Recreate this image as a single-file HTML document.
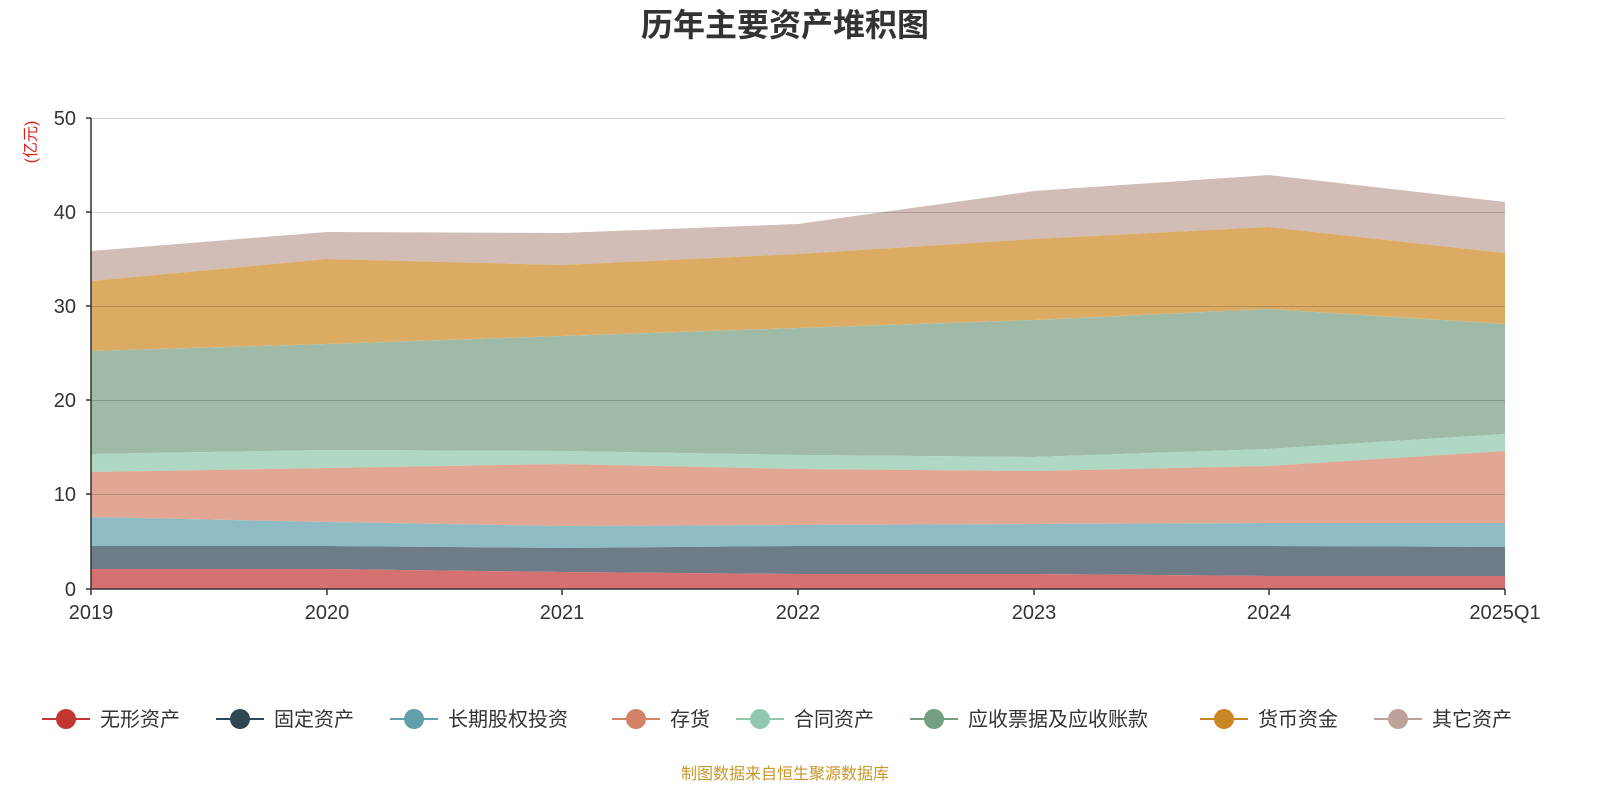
<!DOCTYPE html>
<html><head><meta charset="utf-8"><style>
html,body{margin:0;padding:0;background:#fff;overflow:hidden;width:1600px;height:800px;}
svg{display:block;}
svg text{font-family:"Liberation Sans","Noto Sans CJK SC",sans-serif;}
</style></head><body>
<svg width="1600" height="800" xmlns="http://www.w3.org/2000/svg">
<rect width="1600" height="800" fill="#fff"/>
<text x="785" y="36" text-anchor="middle" font-size="32" font-weight="bold" fill="#333">历年主要资产堆积图</text>
<text transform="translate(36,142) rotate(-90)" text-anchor="middle" font-size="16" fill="#e0201c">(亿元)</text>
<g>
<polygon fill="#d1bcb6" points="91,251 327,232 562,233 798,224 1034,191 1269,175 1505,202 1505,253 1269,227 1034,239 798,254 562,265 327,259 91,281"/>
<polygon fill="#dbab63" points="91,281 327,259 562,265 798,254 1034,239 1269,227 1505,253 1505,324 1269,309 1034,320 798,328 562,336 327,344 91,351"/>
<polygon fill="#9fbba8" points="91,351 327,344 562,336 798,328 1034,320 1269,309 1505,324 1505,434 1269,449 1034,457 798,455 562,451 327,450 91,454"/>
<polygon fill="#aed8c4" points="91,454 327,450 562,451 798,455 1034,457 1269,449 1505,434 1505,451 1269,466 1034,471 798,469 562,464 327,468 91,472"/>
<polygon fill="#e1a792" points="91,472 327,468 562,464 798,469 1034,471 1269,466 1505,451 1505,523 1269,523 1034,524 798,525 562,526 327,522 91,517"/>
<polygon fill="#8fbcc4" points="91,517 327,522 562,526 798,525 1034,524 1269,523 1505,523 1505,547 1269,546 1034,546 798,546 562,548 327,546 91,546"/>
<polygon fill="#6e7c89" points="91,546 327,546 562,548 798,546 1034,546 1269,546 1505,547 1505,576 1269,576 1034,574 798,574 562,572 327,569 91,569"/>
<polygon fill="#d57170" points="91,569 327,569 562,572 798,574 1034,574 1269,576 1505,576 1505,589 91,589"/>
</g>
<g stroke="#000" stroke-opacity="0.18" stroke-width="1">
<line x1="91" x2="1505" y1="118.5" y2="118.5"/>
<line x1="91" x2="1505" y1="212.5" y2="212.5"/>
<line x1="91" x2="1505" y1="306.5" y2="306.5"/>
<line x1="91" x2="1505" y1="400.5" y2="400.5"/>
<line x1="91" x2="1505" y1="494.5" y2="494.5"/>
</g>
<g stroke="#333" stroke-width="1.5">
<line x1="91" x2="91" y1="118" y2="589"/>
<line x1="91" x2="1505" y1="589" y2="589"/>
<line x1="86" x2="91" y1="118" y2="118"/><line x1="86" x2="91" y1="212" y2="212"/><line x1="86" x2="91" y1="306" y2="306"/><line x1="86" x2="91" y1="400" y2="400"/><line x1="86" x2="91" y1="494" y2="494"/><line x1="86" x2="91" y1="589" y2="589"/>
<line x1="91" x2="91" y1="589" y2="595"/><line x1="327" x2="327" y1="589" y2="595"/><line x1="562" x2="562" y1="589" y2="595"/><line x1="798" x2="798" y1="589" y2="595"/><line x1="1034" x2="1034" y1="589" y2="595"/><line x1="1269" x2="1269" y1="589" y2="595"/><line x1="1505" x2="1505" y1="589" y2="595"/>
</g>
<g font-size="20" fill="#333" text-anchor="end">
<text x="76" y="125">50</text><text x="76" y="219">40</text><text x="76" y="313">30</text><text x="76" y="407">20</text><text x="76" y="501">10</text><text x="76" y="596">0</text>
</g>
<g font-size="20" fill="#333" text-anchor="middle">
<text x="91" y="619">2019</text><text x="327" y="619">2020</text><text x="562" y="619">2021</text><text x="798" y="619">2022</text><text x="1034" y="619">2023</text><text x="1269" y="619">2024</text><text x="1505" y="619">2025Q1</text>
</g>
<g font-size="20" fill="#333" stroke-width="2">
<line x1="42" x2="90" y1="719" y2="719" stroke="#c23531"/><circle cx="66" cy="719" r="10" fill="#c23531"/><text x="100" y="726">无形资产</text>
<line x1="216" x2="264" y1="719" y2="719" stroke="#2f4554"/><circle cx="240" cy="719" r="10" fill="#2f4554"/><text x="274" y="726">固定资产</text>
<line x1="390" x2="438" y1="719" y2="719" stroke="#61a0a8"/><circle cx="414" cy="719" r="10" fill="#61a0a8"/><text x="448" y="726">长期股权投资</text>
<line x1="612" x2="660" y1="719" y2="719" stroke="#d48265"/><circle cx="636" cy="719" r="10" fill="#d48265"/><text x="670" y="726">存货</text>
<line x1="736" x2="784" y1="719" y2="719" stroke="#91c7ae"/><circle cx="760" cy="719" r="10" fill="#91c7ae"/><text x="794" y="726">合同资产</text>
<line x1="910" x2="958" y1="719" y2="719" stroke="#749f83"/><circle cx="934" cy="719" r="10" fill="#749f83"/><text x="968" y="726">应收票据及应收账款</text>
<line x1="1200" x2="1248" y1="719" y2="719" stroke="#ca8622"/><circle cx="1224" cy="719" r="10" fill="#ca8622"/><text x="1258" y="726">货币资金</text>
<line x1="1374" x2="1422" y1="719" y2="719" stroke="#bda29a"/><circle cx="1398" cy="719" r="10" fill="#bda29a"/><text x="1432" y="726">其它资产</text>
</g>
<text x="785" y="779" text-anchor="middle" font-size="16" fill="#c8962a">制图数据来自恒生聚源数据库</text>
</svg>
</body></html>
